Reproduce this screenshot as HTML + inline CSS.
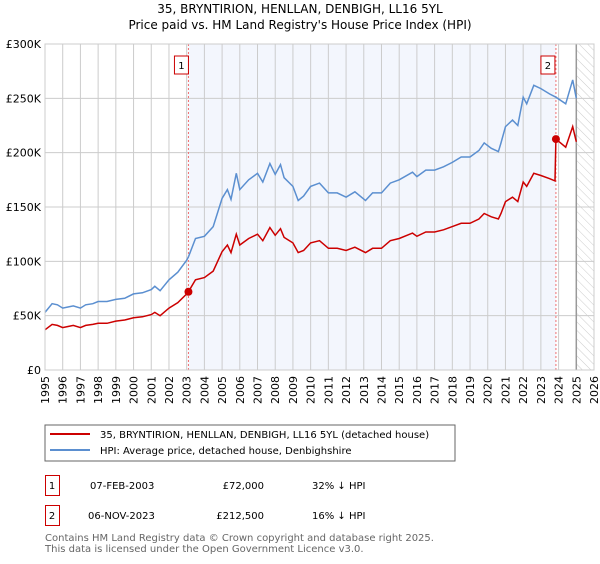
<!DOCTYPE html>
<html><head><meta charset="utf-8"><style>
body{margin:0;background:#fff;width:600px;height:560px;overflow:hidden;font-family:"DejaVu Sans","Liberation Sans",sans-serif;}
svg text{font-family:"DejaVu Sans","Liberation Sans",sans-serif;}
</style></head><body>
<svg id="chart" width="600" height="560" xmlns="http://www.w3.org/2000/svg">
<defs><pattern id="hatch" width="6" height="6" patternUnits="userSpaceOnUse" patternTransform="rotate(-45)"><line x1="0" y1="0" x2="0" y2="6" stroke="#ccc" stroke-width="1"/></pattern></defs>
<text x="300" y="13" text-anchor="middle" font-size="12">35, BRYNTIRION, HENLLAN, DENBIGH, LL16 5YL</text>
<text x="300" y="29" text-anchor="middle" font-size="12">Price paid vs. HM Land Registry's House Price Index (HPI)</text>
<g id="plot"></g>
<g>
<rect x="45" y="425" width="410" height="36" fill="#fff" stroke="#666"/>
<line x1="50" y1="434" x2="90" y2="434" stroke="#cc0000" stroke-width="2"/>
<text x="100" y="438" font-size="10">35, BRYNTIRION, HENLLAN, DENBIGH, LL16 5YL (detached house)</text>
<line x1="50" y1="450" x2="90" y2="450" stroke="#5b8fd0" stroke-width="2"/>
<text x="100" y="454" font-size="10">HPI: Average price, detached house, Denbighshire</text>
</g>
<g font-size="10">
<rect x="45.5" y="475.5" width="14" height="20" fill="#fff" stroke="#cc0000"/>
<text x="52" y="489" text-anchor="middle">1</text>
<text x="90" y="489">07-FEB-2003</text>
<text x="264" y="489" text-anchor="end">£72,000</text>
<text x="312" y="489">32% ↓ HPI</text>
</g>
<g font-size="10">
<rect x="45.5" y="505.5" width="14" height="20" fill="#fff" stroke="#cc0000"/>
<text x="52" y="519" text-anchor="middle">2</text>
<text x="88" y="519">06-NOV-2023</text>
<text x="264" y="519" text-anchor="end">£212,500</text>
<text x="312" y="519">16% ↓ HPI</text>
</g>
<text x="45" y="541" font-size="10" fill="#666">Contains HM Land Registry data © Crown copyright and database right 2025.</text>
<text x="45" y="552" font-size="10" fill="#666">This data is licensed under the Open Government Licence v3.0.</text>
</svg>
<script>
const hpiDates=[1995,1995.4,1995.7,1996,1996.3,1996.6,1997,1997.3,1997.7,1998,1998.5,1999,1999.5,2000,2000.5,2001,2001.2,2001.5,2002,2002.5,2003,2003.1,2003.5,2004,2004.5,2005,2005.3,2005.5,2005.8,2006,2006.5,2007,2007.3,2007.7,2008,2008.3,2008.5,2009,2009.3,2009.6,2010,2010.5,2011,2011.5,2012,2012.5,2013.1,2013.5,2014,2014.5,2015,2015.75,2016,2016.5,2017,2017.5,2018,2018.5,2019,2019.5,2019.8,2020.2,2020.6,2020.75,2021,2021.4,2021.7,2022,2022.2,2022.6,2023,2023.5,2023.85,2024.4,2024.8,2025];
const hpiValues=[53,61,60,57,58,59,57,60,61,63,63,65,66,70,71,74,77,73,83,90,101,104,121,123,132,158,166,157,181,166,175,181,173,190,180,189,177,169,156,160,169,172,163,163,159,164,156,163,163,172,175,182,178,184,184,187,191,196,196,202,209,204,201,209,224,230,225,251,245,262,259,254,251,245,267,250];
const priceDates=[1995,1995.4,1995.7,1996,1996.3,1996.6,1997,1997.3,1997.7,1998,1998.5,1999,1999.5,2000,2000.5,2001,2001.2,2001.5,2002,2002.5,2003,2003.1,2003.5,2004,2004.5,2005,2005.3,2005.5,2005.8,2006,2006.5,2007,2007.3,2007.7,2008,2008.3,2008.5,2009,2009.3,2009.6,2010,2010.5,2011,2011.5,2012,2012.5,2013.1,2013.5,2014,2014.5,2015,2015.75,2016,2016.5,2017,2017.5,2018,2018.5,2019,2019.5,2019.8,2020.2,2020.6,2020.75,2021,2021.4,2021.7,2022,2022.2,2022.6,2023,2023.5,2023.8,2023.85,2024.4,2024.8,2025];
const priceValues=[37,42,41,39,40,41,39,41,42,43,43,45,46,48,49,51,53,50,57,62,70,72,83,85,91,109,115,108,125,115,121,125,119,131,124,130,122,117,108,110,117,119,112,112,110,113,108,112,112,119,121,126,123,127,127,129,132,135,135,139,144,141,139,144,155,159,155,173,169,181,179,176,174,212.5,205,224,210];
const saleDates=[2003.1,2023.85];
const saleValues=[72,212.5];
const saleLabels=["1","2"];
const yTicks=[0,50,100,150,200,250,300];
const yTickLabels=["£0","£50K","£100K","£150K","£200K","£250K","£300K"];
const xTicks=[1995,1996,1997,1998,1999,2000,2001,2002,2003,2004,2005,2006,2007,2008,2009,2010,2011,2012,2013,2014,2015,2016,2017,2018,2019,2020,2021,2022,2023,2024,2025,2026];

const L=45,R=594,T=44,B=370;
const X=v=>L+(v-1995)/(2026-1995)*(R-L);
const Y=v=>B-v/300*(B-T);
const NS="http://www.w3.org/2000/svg";
const g=document.getElementById('plot');
function mk(tag,attrs,parent){const e=document.createElementNS(NS,tag);for(const k in attrs)e.setAttribute(k,attrs[k]);(parent||g).appendChild(e);return e;}

let e=mk('rect',{x:L,y:T,width:R-L,height:B-T,fill:'#fff'});


e=mk('rect',{x:X(saleDates[0]),y:T,width:X(saleDates[1])-X(saleDates[0]),height:B-T,fill:'#eef2fc',opacity:0.7});


e=mk('rect',{x:X(2025),y:T,width:R-X(2025),height:B-T,fill:'url(#hatch)'});



yTicks.forEach((t,i)=>{
  const l=mk('line',{x1:L,x2:R,y1:Y(t),y2:Y(t),stroke:'#ccc','stroke-width':1});
  
  
  const tx=mk('text',{x:L-4,y:Y(t)+4,'text-anchor':'end','font-size':11});
  tx.textContent=yTickLabels[i];
  
  
});
xTicks.forEach(t=>{
  const l=mk('line',{x1:X(t),x2:X(t),y1:T,y2:B,stroke:'#ccc','stroke-width':1});
  
  
  const tx=mk('text',{x:0,y:0,'text-anchor':'end','font-size':11,transform:`translate(${X(t)+4},${B+6}) rotate(-90)`});
  tx.textContent=t;
  
  
});
e=mk('line',{x1:X(2025),x2:X(2025),y1:T,y2:B,stroke:'#999','stroke-width':1.5});



saleDates.forEach((d,i)=>{
  const l=mk('line',{x1:X(d),x2:X(d),y1:T,y2:B,stroke:'#f07070','stroke-width':1,'stroke-dasharray':'2,2'});
  
  
});

function path(xs,ys,color,name){
  const p=mk('path',{d:xs.map((d,i)=>(i?'L':'M')+X(d).toFixed(1)+','+Y(ys[i]).toFixed(1)).join(''),fill:'none',stroke:color,'stroke-width':1.5});
  
  
}
path(hpiDates,hpiValues,'#5b8fd0','hpi-line');
path(priceDates,priceValues,'#cc0000','price-paid-line');

saleDates.forEach((d,i)=>{
  const c=mk('circle',{cx:X(d),cy:Y(saleValues[i]),r:4,fill:'#cc0000'});
  
  
  const bx=X(d)-(i?15:14);
  const r=mk('rect',{x:bx,y:56,width:14,height:18,fill:'#fff',stroke:'#cc0000'});
  
  
  const tx=mk('text',{x:bx+7,y:69,'text-anchor':'middle','font-size':10});
  tx.textContent=saleLabels[i];
  
  
});
e=mk('rect',{x:L,y:T,width:R-L,height:B-T,fill:'none',stroke:'#ccc'});


</script>
</body></html>
